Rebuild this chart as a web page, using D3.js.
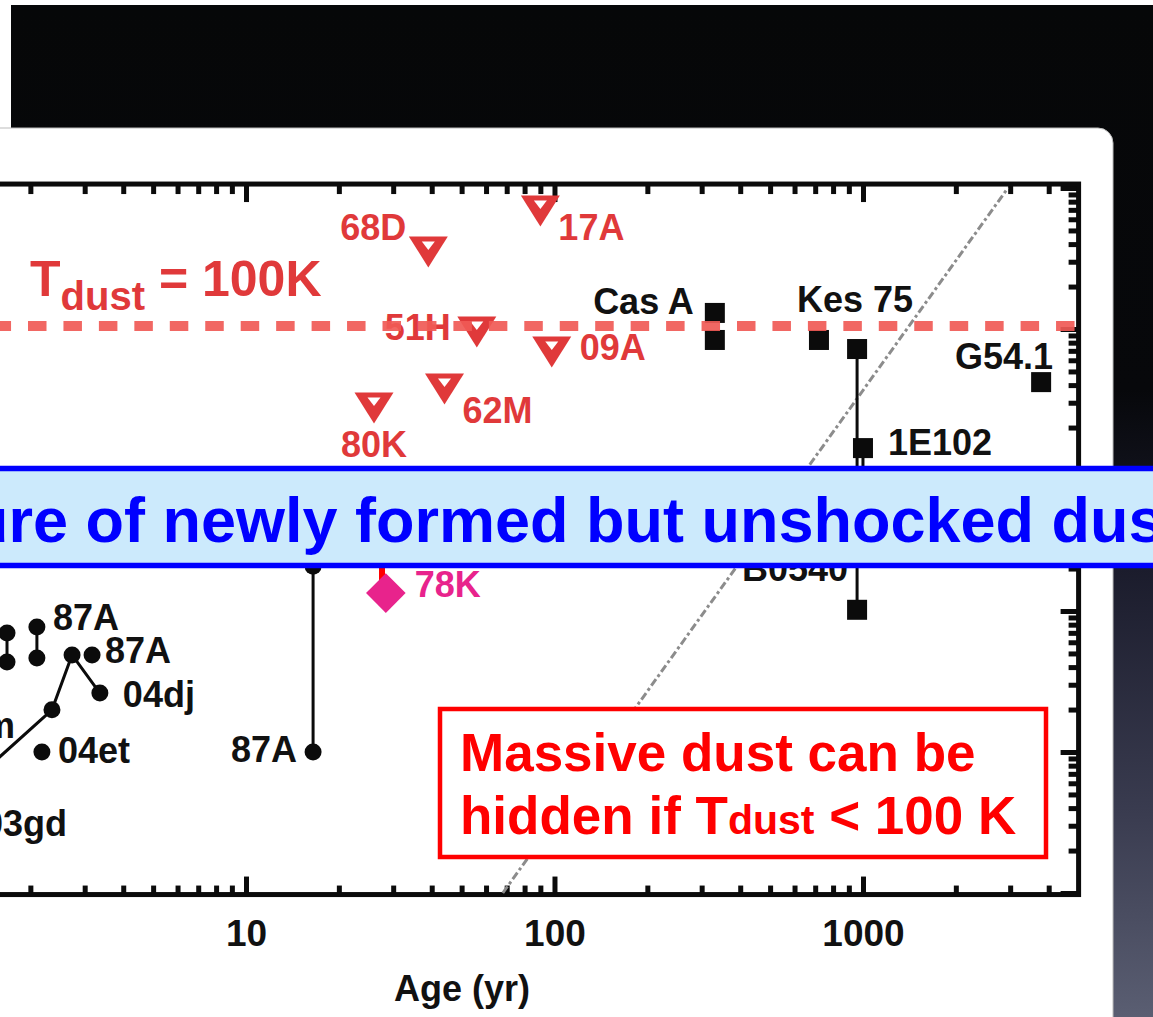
<!DOCTYPE html>
<html lang="en">
<head>
<meta charset="utf-8">
<title>Dust mass vs age</title>
<script src="https://cdn.jsdelivr.net/npm/d3@7"></script>
<style>
body { margin: 0; background: #fff; }
svg { display: block; font-family: "Liberation Sans", Arial, Helvetica, sans-serif; font-weight: bold; }
</style>
</head>
<body>
<script>
// values: age in yr, dust mass on a log axis (its labels are cropped away)

// upper limits (red open triangles)
var limitNames = ["17A", "68D", "51H", "09A", "62M", "80K"];
var limitAges = [90, 39, 56, 98, 44, 26];
var limitMasses = [0.687, 0.352, 0.0953, 0.0687, 0.0375, 0.0275];

// remnants (black squares)
var remnantNames = ["Cas A", "", "Kes 75", "", "1E102", "B0540", "G54.1"];
var remnantAges = [331, 331, 720, 957, 1000, 957, 3780];
var remnantMasses = [0.130, 0.0836, 0.0836, 0.0721, 0.0143, 1.02e-3, 0.042];

// young supernovae (black circles)
var snNames = ["", "87A", "87A", "", "", "", "", "87A", "04dj", "99em", "04et", "03gd"];
var snAges = [16.5, 16.5, 2.10, 2.10, 1.68, 1.68, 2.73, 3.17, 3.36, 2.35, 2.18, 1.2];
var snMasses = [2.08e-3, 1.0e-4, 7.7e-4, 4.65e-4, 6.98e-4, 4.35e-4, 4.88e-4, 4.88e-4, 2.62e-4, 1.99e-4, 1.0e-4, 2.6e-5];

// vertical ranges joining two estimates of the same object
var rangeAges = [16.5, 2.10, 1.68, 957, 1000];
var rangeHigh = [2.08e-3, 7.7e-4, 6.98e-4, 0.0721, 0.0143];
var rangeLow = [1.0e-4, 4.65e-4, 4.35e-4, 1.02e-3, 4.0e-3];

// time track joined by a line
var trackAges = [1.2, 2.35, 2.73, 3.36];
var trackMasses = [5.3e-5, 1.99e-4, 4.88e-4, 2.62e-4];

// 78K (pink diamond) and its red bar
var pinkAges = [28.4];
var pinkMasses = [1.34e-3];
var pinkBarAge = [27.6];
var pinkBarMasses = [1.34e-3, 4.0e-3];

// T_dust = 100 K level and the grey reference line
var tdustMass = [0.105];
var refAges = [68, 2950];
var refMasses = [1e-5, 1];

// axis ticks
var xMajor = [1, 10, 100, 1000];
var yMajor = [1e-5, 1e-4, 1e-3, 1e-2, 1e-1, 1];

// label placement (kept apart from the values)
var limitLabelPos = [[18, 29, "start"], [-22, -12, "end"], [-26, 8, "end"], [28, 8, "start"], [18, 34, "start"], [0, 49, "middle"]];
var remnantLabelPos = [[-21, 1, "end"], null, [-22, -28, "start"], null, [25, 7, "start"], [-9, -29, "end"], [12, -13, "end"]];
var snLabelPos = [null, [-16, 10, "end"], [16, 3, "start"], null, null, null, null, [13, 8, "start"], [23, 14, "start"], [-37, 28, "end"], [16, 11, "start"], [21, 2, "start"]];

var W = 1153, H = 1017;
var RED = "#e0393a", PINK = "#e8238c", INK = "#0b0b0b";

var x = d3.scaleLog().domain([1, 5000]).range([-62.5, 1078.6]);
var y = d3.scaleLog().domain([1e-5, 1]).range([893, 188]);
var yTopV = Math.pow(10, 0.028), yBotV = Math.pow(10, -5.011);
var xLeft = x(1), xRight = x(5000), yTop = y(yTopV), yBottom = y(yBotV);

function minorTicks(lo, hi, max) {
    var out = [];
    for (var p = lo; p < hi; p++)
        for (var k = 2; k <= 9; k++) {
            var v = k * Math.pow(10, p);
            if (!max || v < max) out.push(v);
        }
    return out;
}
var xMinor = minorTicks(0, 4, 5000);
var yMinor = minorTicks(-5, 0);

var svg = d3.select("body").append("svg")
    .attr("width", W)
    .attr("height", H);

// slide background
var defs = svg.append("defs");
var grad = defs.append("linearGradient").attr("id", "bg").attr("x1", 0).attr("y1", 0).attr("x2", 0).attr("y2", 1);
grad.append("stop").attr("offset", "0%").attr("stop-color", "#060708");
grad.append("stop").attr("offset", "38%").attr("stop-color", "#07080b");
grad.append("stop").attr("offset", "55%").attr("stop-color", "#1a1b2b");
grad.append("stop").attr("offset", "80%").attr("stop-color", "#3a3c50");
grad.append("stop").attr("offset", "100%").attr("stop-color", "#5a5e72");
defs.append("clipPath").attr("id", "frame").append("rect")
    .attr("x", xLeft).attr("y", yTop).attr("width", xRight - xLeft).attr("height", yBottom - yTop);

svg.append("rect").attr("width", W).attr("height", H).attr("fill", "#fff");
svg.append("rect").attr("x", 11).attr("y", 5).attr("width", W - 11).attr("height", H - 5).attr("fill", "url(#bg)");
svg.append("rect").attr("x", -30).attr("y", 128).attr("width", 1143).attr("height", 920)
    .attr("rx", 15).attr("fill", "#fff").attr("stroke", "#bbb").attr("stroke-width", 1);

// axes (ticks point inward)
function styleAxis(g) {
    g.select(".domain").remove();
    g.selectAll(".tick line").attr("stroke", INK).attr("stroke-width", 5);
}
function noText(g) { g.selectAll(".tick text").remove(); }

svg.append("g").attr("transform", "translate(0," + yTop + ")")
    .call(d3.axisBottom(x).tickValues(xMajor).tickSize(18).tickSizeOuter(0).tickFormat(""))
    .call(styleAxis).call(noText);
svg.append("g").attr("transform", "translate(0," + yTop + ")")
    .call(d3.axisBottom(x).tickValues(xMinor).tickSize(10).tickSizeOuter(0).tickFormat(""))
    .call(styleAxis).call(noText);
svg.append("g").attr("transform", "translate(0," + yBottom + ")")
    .call(d3.axisBottom(x).tickValues(xMinor).tickSize(-9).tickSizeOuter(0).tickFormat(""))
    .call(styleAxis).call(noText);
var xAxis = svg.append("g").attr("transform", "translate(0," + yBottom + ")")
    .call(d3.axisBottom(x).tickValues(xMajor.slice(1)).tickSize(-18).tickSizeOuter(0).tickPadding(25).tickFormat(d3.format("d")))
    .call(styleAxis);
xAxis.selectAll(".tick text")
    .attr("font-size", 37)
    .attr("font-family", "Liberation Sans, Arial, sans-serif")
    .attr("font-weight", "bold")
    .attr("fill", "#111");
svg.append("g").attr("transform", "translate(" + xRight + ",0)")
    .call(d3.axisLeft(y).tickValues(yMajor).tickSize(18).tickSizeOuter(0).tickFormat(""))
    .call(styleAxis).call(noText);
svg.append("g").attr("transform", "translate(" + xRight + ",0)")
    .call(d3.axisLeft(y).tickValues(yMinor).tickSize(10).tickSizeOuter(0).tickFormat(""))
    .call(styleAxis).call(noText);

svg.append("rect")
    .attr("x", xLeft).attr("y", yTop)
    .attr("width", xRight - xLeft).attr("height", yBottom - yTop)
    .attr("fill", "none").attr("stroke", INK).attr("stroke-width", 5);

svg.append("text")
    .attr("x", 462).attr("y", 1001)
    .attr("text-anchor", "middle")
    .attr("font-size", 36).attr("fill", "#111")
    .text("Age (yr)");

// grey reference line
svg.append("line")
    .attr("clip-path", "url(#frame)")
    .attr("x1", x(refAges[0])).attr("y1", y(refMasses[0]))
    .attr("x2", x(refAges[1])).attr("y2", y(refMasses[1]))
    .attr("stroke", "#8c8c8c").attr("stroke-width", 3)
    .attr("stroke-dasharray", "8,3,3,3");

// ranges and track
svg.selectAll("line.range")
    .data(rangeAges)
    .enter()
    .append("line")
    .attr("class", "range")
    .attr("x1", function(d) { return x(d); })
    .attr("x2", function(d) { return x(d); })
    .attr("y1", function(d, i) { return y(rangeHigh[i]); })
    .attr("y2", function(d, i) { return y(rangeLow[i]); })
    .attr("stroke", INK).attr("stroke-width", 3);

var track = d3.line()
    .x(function(d, i) { return x(trackAges[i]); })
    .y(function(d, i) { return y(trackMasses[i]); });
svg.append("path")
    .attr("d", track(trackAges))
    .attr("fill", "none").attr("stroke", INK).attr("stroke-width", 3);

// pink 78K
svg.append("line")
    .attr("x1", x(pinkBarAge[0])).attr("x2", x(pinkBarAge[0]))
    .attr("y1", y(pinkBarMasses[0])).attr("y2", y(pinkBarMasses[1]))
    .attr("stroke", "#ff0000").attr("stroke-width", 6);
svg.selectAll("path.pink")
    .data(pinkAges)
    .enter()
    .append("path")
    .attr("class", "pink")
    .attr("d", d3.symbol().type(d3.symbolSquare).size(28 * 28))
    .attr("transform", function(d, i) { return "translate(" + x(d) + "," + y(pinkMasses[i]) + ") rotate(45)"; })
    .attr("fill", PINK);

// circles
svg.selectAll("circle.sn")
    .data(snAges)
    .enter()
    .append("circle")
    .attr("class", "sn")
    .attr("cx", function(d) { return x(d); })
    .attr("cy", function(d, i) { return y(snMasses[i]); })
    .attr("r", 8.5)
    .attr("fill", INK);

// squares
svg.selectAll("rect.remnant")
    .data(remnantAges)
    .enter()
    .append("rect")
    .attr("class", "remnant")
    .attr("x", function(d) { return x(d) - 10; })
    .attr("y", function(d, i) { return y(remnantMasses[i]) - 10; })
    .attr("width", 20).attr("height", 20)
    .attr("fill", INK);

// upper limit triangles
var lim = svg.selectAll("g.limit")
    .data(limitAges)
    .enter()
    .append("g")
    .attr("class", "limit")
    .attr("transform", function(d, i) { return "translate(" + x(d) + "," + y(limitMasses[i]) + ")"; });
lim.append("path").attr("d", "M-19.5,-15.5L19.5,-15.5L0,15.5Z").attr("fill", RED);
lim.append("path").attr("d", "M-6.5,-10.5L6.5,-10.5L0,-2Z").attr("fill", "#fff");

// labels
function addLabels(names, ages, masses, pos, color) {
    names.forEach(function(t, i) {
        if (!t || !pos[i]) return;
        svg.append("text")
            .attr("x", x(ages[i]) + pos[i][0])
            .attr("y", y(masses[i]) + pos[i][1])
            .attr("text-anchor", pos[i][2])
            .attr("font-size", 36)
            .attr("fill", color)
            .text(t);
    });
}
addLabels(limitNames, limitAges, limitMasses, limitLabelPos, RED);
addLabels(remnantNames, remnantAges, remnantMasses, remnantLabelPos, "#111");
addLabels(snNames, snAges, snMasses, snLabelPos, "#111");
addLabels(["78K"], pinkAges, pinkMasses, [[29, 4, "start"]], PINK);

// T_dust = 100K dashed level
svg.append("line")
    .attr("x1", xLeft).attr("x2", xRight)
    .attr("y1", y(tdustMass[0])).attr("y2", y(tdustMass[0]))
    .attr("stroke", "#f05a56").attr("stroke-width", 10)
    .attr("stroke-opacity", 0.92)
    .attr("stroke-dasharray", "18.5,16.95")
    .attr("stroke-dashoffset", 15.85);

var tl = svg.append("text").attr("x", 30).attr("y", 296).attr("fill", RED).attr("font-size", 50);
tl.append("tspan").text("T");
tl.append("tspan").attr("font-size", 40).attr("dy", 14).text("dust");
tl.append("tspan").attr("dy", -14).text(" = 100K");

// banner
svg.append("rect")
    .attr("x", -20).attr("y", 468.5).attr("width", W + 40).attr("height", 97)
    .attr("fill", "#cceafc").attr("stroke", "#0000ff").attr("stroke-width", 5.5);
svg.append("text")
    .attr("x", -309).attr("y", 542)
    .attr("font-size", 63).attr("fill", "#0000ff")
    .text("Temperature of newly formed but unshocked dust");

// red box
svg.append("rect")
    .attr("x", 440).attr("y", 709).attr("width", 606).attr("height", 148)
    .attr("fill", "#fff").attr("stroke", "#ff0000").attr("stroke-width", 4.5);
svg.append("text")
    .attr("x", 460).attr("y", 771)
    .attr("font-size", 53).attr("fill", "#ff0000")
    .text("Massive dust can be");
var l2 = svg.append("text").attr("x", 460).attr("y", 834).attr("font-size", 53).attr("fill", "#ff0000");
l2.append("tspan").text("hidden if T");
l2.append("tspan").attr("font-size", 41).text("dust");
l2.append("tspan").text(" < 100 K");
</script>
</body>
</html>
